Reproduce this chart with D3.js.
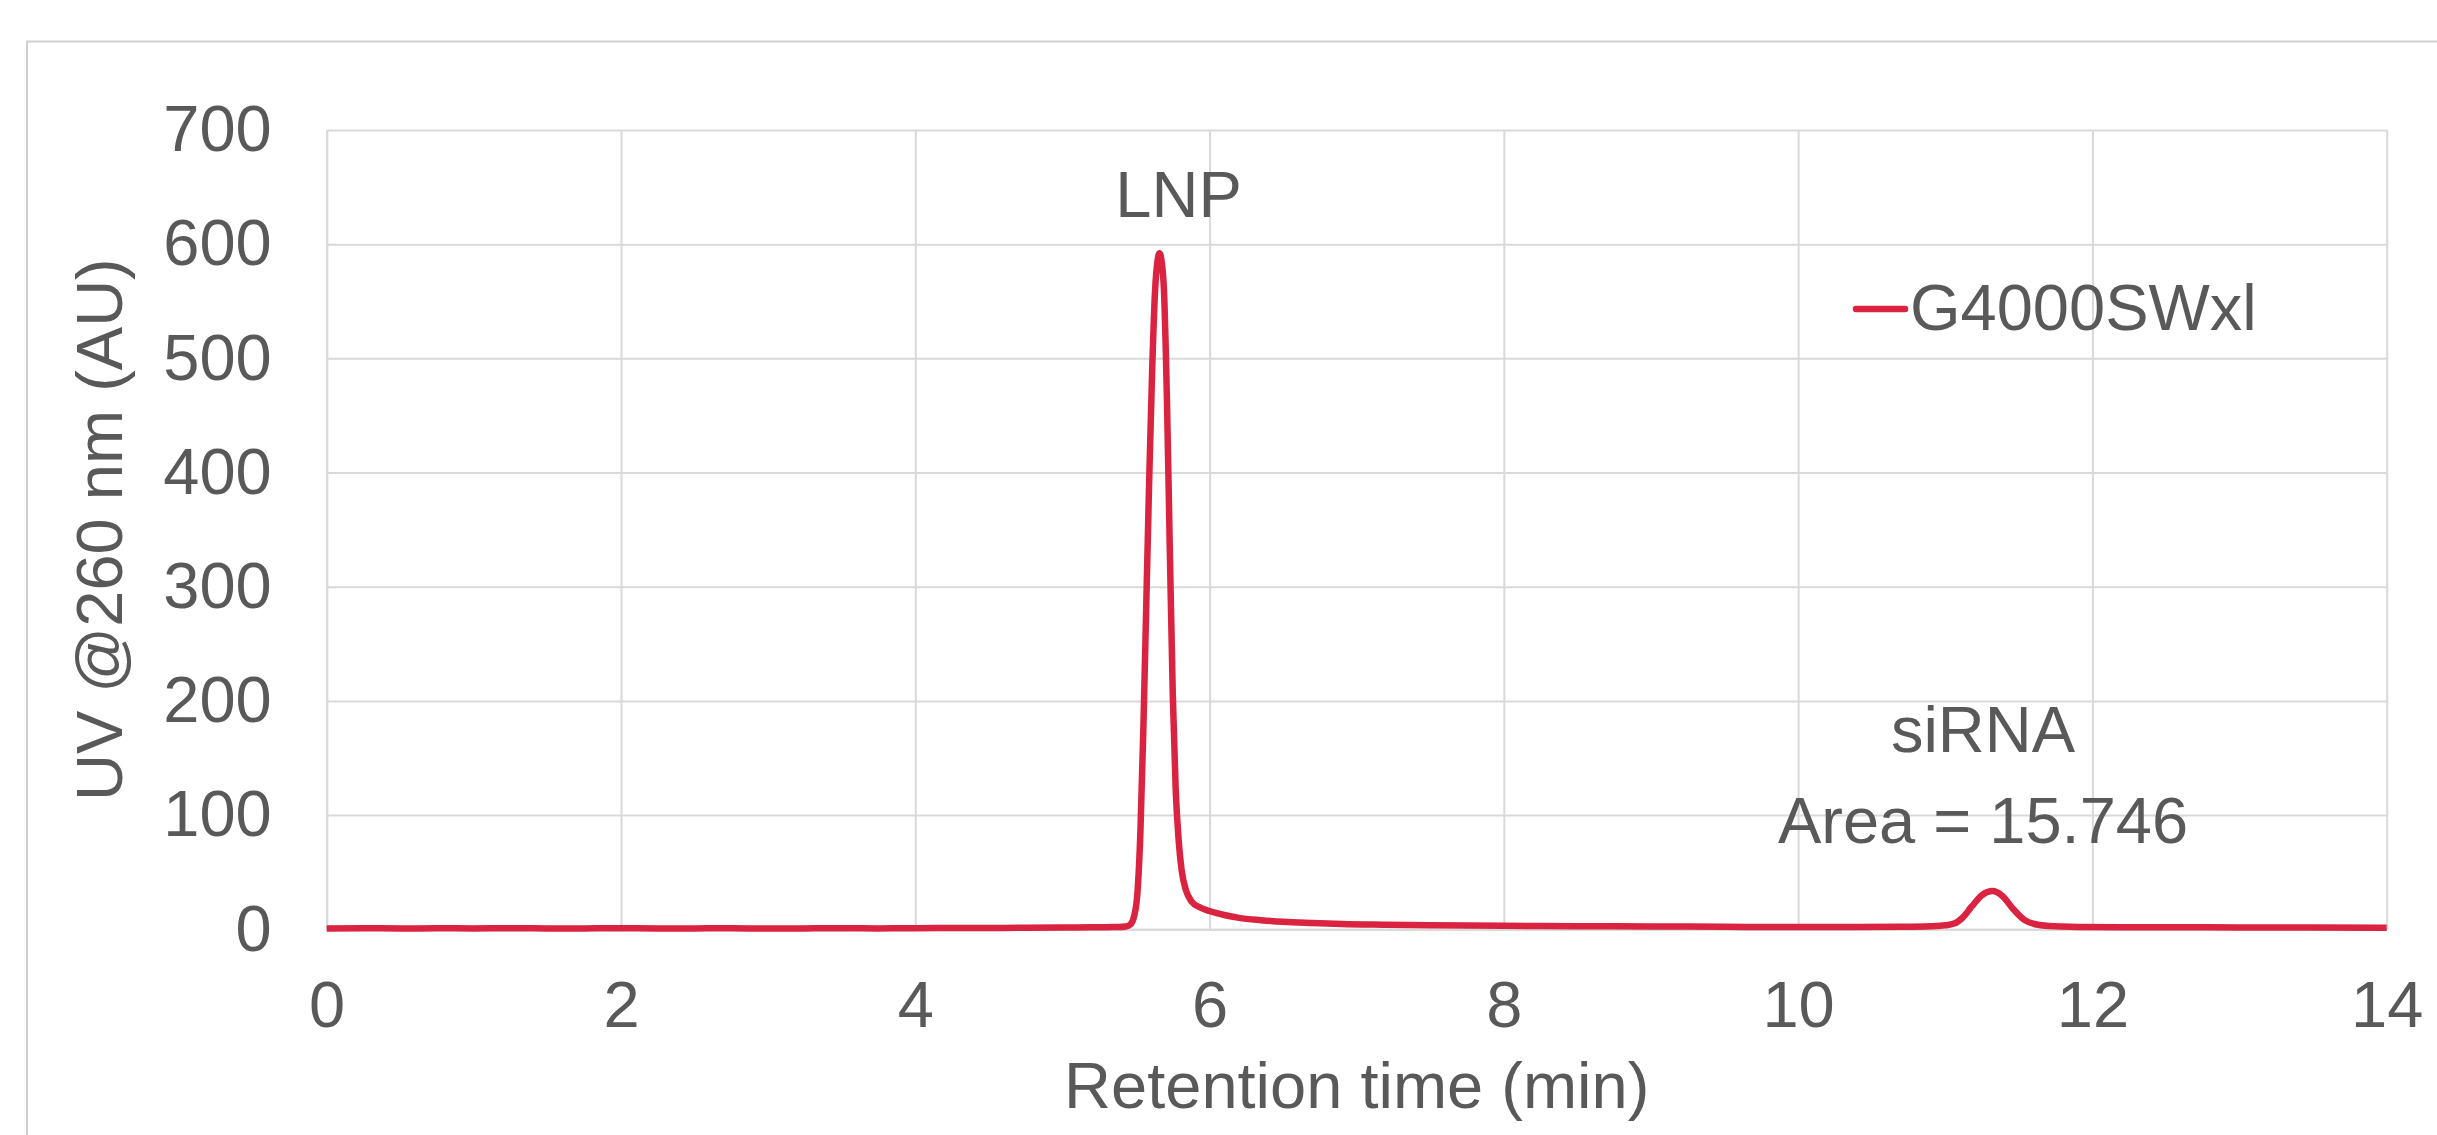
<!DOCTYPE html>
<html>
<head>
<meta charset="utf-8">
<script src="https://cdn.jsdelivr.net/npm/d3@7"></script>
<style>
  html, body { margin: 0; padding: 0; background: #fff; }
  svg { display: block; font-family: "Liberation Sans", Arial, sans-serif; }
  .axis text { fill: #595959; font-size: 65px; }
  .axis line, .axis path { stroke: #d9d9d9; stroke-width: 2px; }
</style>
</head>
<body>
<svg id="chart" width="2437" height="1135"></svg>
<script>
"use strict";

// Retention time (min)
const time = [0, 0.25, 0.5, 0.75, 1.0, 1.25, 1.5, 1.75, 2.0, 2.25, 2.5, 2.75, 3.0, 3.25, 3.5,
  3.75, 4.0, 4.25, 4.5, 4.75, 5.0, 5.2, 5.3, 5.38, 5.43, 5.46, 5.49, 5.51, 5.53, 5.55, 5.57,
  5.59, 5.61, 5.63, 5.645, 5.66, 5.675, 5.69, 5.71, 5.73, 5.75, 5.77, 5.79, 5.81, 5.84, 5.88,
  5.93, 6.0, 6.1, 6.2, 6.35, 6.5, 6.7, 6.9, 7.2, 7.5, 8.0, 8.5, 9.0, 9.5, 10.0, 10.4, 10.7,
  10.9, 11.0, 11.06, 11.12, 11.18, 11.25, 11.32, 11.39, 11.46, 11.54, 11.63, 11.75, 11.9,
  12.2, 12.5, 13.0, 13.5, 14.0];

// UV @260 nm (AU)
const uv = [0.8, 1.0, 0.7, 0.9, 0.8, 1.0, 0.7, 0.8, 0.9, 0.7, 0.8, 0.9, 0.7, 0.8, 0.9,
  0.8, 1.0, 1.1, 1.2, 1.3, 1.5, 1.7, 1.9, 2.0, 2.5, 4, 13, 32, 85, 175, 285,
  395, 490, 560, 584, 592, 584, 560, 466, 332, 206, 122, 78, 52, 34, 24,
  19.5, 16, 12.5, 10, 8, 6.6, 5.5, 4.6, 4.0, 3.5, 3.0, 2.7, 2.5, 2.2, 2.0, 2.0, 2.2,
  2.7, 3.5, 5, 10.5, 20, 30, 33.5, 29, 18, 8, 4, 2.6, 2.1,
  1.9, 1.8, 1.6, 1.5, 1.4];

const xTicks = [0, 2, 4, 6, 8, 10, 12, 14];
const yTicks = [0, 100, 200, 300, 400, 500, 600, 700];

const seriesName = "G4000SWxl";
const peakLabels = [
  { t: 5.66, v: 592, lines: ["LNP"] },
  { t: 11.32, v: 33.5, lines: ["siRNA", "Area = 15.746"] }
];

const lineColor = "#da2340";
const textColor = "#595959";

const svg = d3.select("#chart");
const W = +svg.attr("width"), H = +svg.attr("height");

const margin = { left: 326.7, right: W - 2386.7, top: 130, bottom: H - 929.3 };
const pw = W - margin.left - margin.right;
const ph = H - margin.top - margin.bottom;

// outer chart border (runs off the picture right and bottom)
svg.append("rect")
  .attr("x", 27).attr("y", 41.5)
  .attr("width", W).attr("height", H)
  .attr("fill", "none")
  .attr("stroke", "#d0d0d0")
  .attr("stroke-width", 2);

const g = svg.append("g")
  .attr("transform", "translate(" + margin.left + "," + margin.top + ")");

const x = d3.scaleLinear().domain([0, 14]).range([0, pw]);
const y = d3.scaleLinear().domain([0, 700]).range([ph, 0]);

// x axis + vertical gridlines
g.append("g")
  .attr("class", "axis")
  .attr("transform", "translate(0," + ph + ")")
  .call(d3.axisBottom(x).tickValues(xTicks).tickSize(-ph).tickSizeOuter(0).tickPadding(52));

// y axis + horizontal gridlines
g.append("g")
  .attr("class", "axis")
  .call(d3.axisLeft(y).tickValues(yTicks).tickSize(-pw).tickSizeOuter(0).tickPadding(55));

g.selectAll(".axis .tick text").attr("fill", textColor);

// trace
const data = time.map((t, i) => ({ t: t, v: uv[i] }));
g.append("path")
  .datum(data)
  .attr("fill", "none")
  .attr("stroke", lineColor)
  .attr("stroke-width", 6.5)
  .attr("stroke-linejoin", "round")
  .attr("d", d3.line().x(d => x(d.t)).y(d => y(d.v)).curve(d3.curveMonotoneX));

// peak annotations
g.append("text")
  .attr("x", x(peakLabels[0].t) + 19).attr("y", 217 - margin.top)
  .attr("text-anchor", "middle")
  .attr("fill", textColor).attr("font-size", 65)
  .text(peakLabels[0].lines[0]);

g.selectAll(".sirna")
  .data(peakLabels[1].lines)
  .enter().append("text")
  .attr("class", "sirna")
  .attr("x", 1983 - margin.left)
  .attr("y", (d, i) => 752 - margin.top + i * 91)
  .attr("text-anchor", "middle")
  .attr("fill", textColor).attr("font-size", 65)
  .text(d => d);

// legend
const lg = svg.append("g");
lg.append("line")
  .attr("x1", 1856).attr("x2", 1905)
  .attr("y1", 309).attr("y2", 309)
  .attr("stroke", lineColor).attr("stroke-width", 6.5)
  .attr("stroke-linecap", "round");
lg.append("text")
  .attr("x", 1910).attr("y", 330)
  .attr("fill", textColor).attr("font-size", 65)
  .text(seriesName);

// axis titles
svg.append("text")
  .attr("x", margin.left + pw / 2).attr("y", 1108)
  .attr("text-anchor", "middle")
  .attr("fill", textColor).attr("font-size", 65)
  .text("Retention time (min)");

svg.append("text")
  .attr("transform", "translate(122," + (margin.top + ph / 2) + ") rotate(-90)")
  .attr("text-anchor", "middle")
  .attr("fill", textColor).attr("font-size", 65)
  .text("UV @260 nm (AU)");
</script>
</body>
</html>
